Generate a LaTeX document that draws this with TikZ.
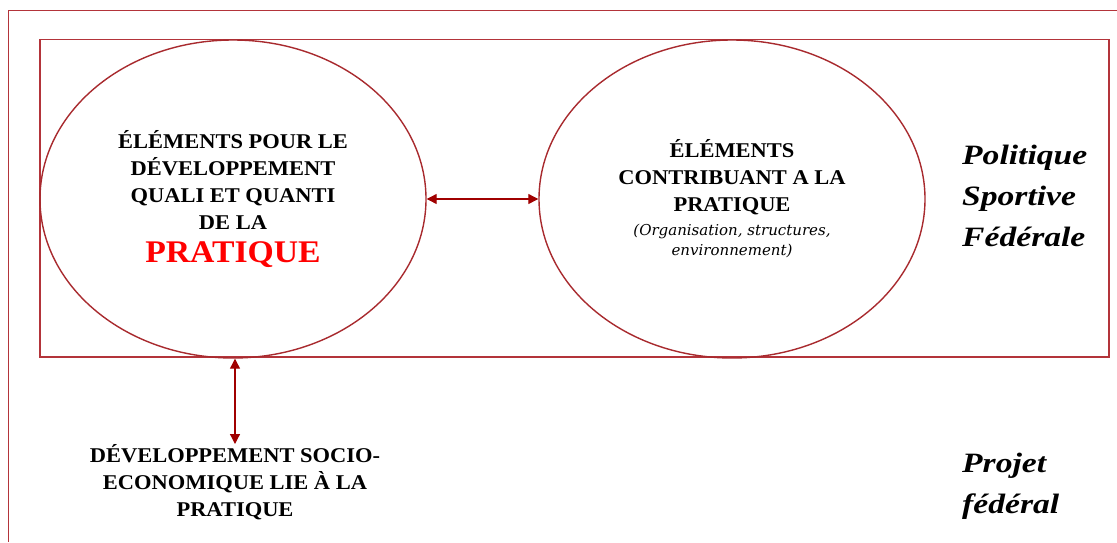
\documentclass[tikz,border=0pt]{standalone}
\usepackage{fontspec}
\setmainfont{Liberation Serif}
\newfontfamily\wideserif[FakeStretch=1.07]{Liberation Serif}
\newfontfamily\sideserif[FakeStretch=1.2]{Liberation Serif}
\newfontfamily\noteserif{DejaVu Serif}
\usetikzlibrary{shapes.geometric,arrows.meta}
\definecolor{frame}{HTML}{B3343A}
\definecolor{ell}{HTML}{A82A2E}
\definecolor{arr}{HTML}{A00000}
\definecolor{pred}{HTML}{FF0000}
\tikzset{
  bubble/.style={ellipse, draw=ell, line width=1.4pt, minimum width=386pt, minimum height=318pt, inner sep=0pt, align=center, font=\wideserif\fontsize{21}{27}\selectfont\bfseries},
  link/.style={draw=arr, line width=1.2pt, {Triangle[length=10pt,width=10pt]}-{Triangle[length=10pt,width=10pt]}},
  side/.style={font=\sideserif\fontsize{28}{41}\selectfont\bfseries\itshape, align=left, inner sep=0pt},
  capt/.style={font=\wideserif\fontsize{21}{27}\selectfont\bfseries, align=center, inner sep=0pt}
}
\begin{document}
\begin{tikzpicture}[x=1pt,y=-1pt]
\useasboundingbox (0,0) rectangle (1117,542);
\draw[frame, line width=1.5pt] (1117,10.5) -- (8.5,10.5) -- (8.5,542);
\draw[frame, line width=1.5pt] (40,39.5) rectangle (1109,357);
\node[bubble] (L) at (233,199) {ÉLÉMENTS POUR LE\\DÉVELOPPEMENT\\QUALI ET QUANTI\\DE LA\\[6pt]{\color{pred}\fontsize{31.5}{34}\selectfont PRATIQUE}};
\node[bubble] (R) at (732,199) {ÉLÉMENTS\\CONTRIBUANT A LA\\PRATIQUE\\[-3pt]{\noteserif\fontsize{15}{18}\selectfont\mdseries\itshape (Organisation, structures,}\\[-7pt]{\noteserif\fontsize{15}{18}\selectfont\mdseries\itshape environnement)}};
\node[capt, anchor=north] (B) at (235,444) {DÉVELOPPEMENT SOCIO-\\ECONOMIQUE LIE À LA\\PRATIQUE};
\node[side, anchor=north west] (P) at (962,145) {Politique\\Sportive\\Fédérale};
\node[side, anchor=north west] (F) at (962,453) {Projet\\fédéral};
\draw[link] (L.east) -- (R.west);
\draw[link] (L.south -| B.north) -- (B.north);
\end{tikzpicture}
\end{document}
